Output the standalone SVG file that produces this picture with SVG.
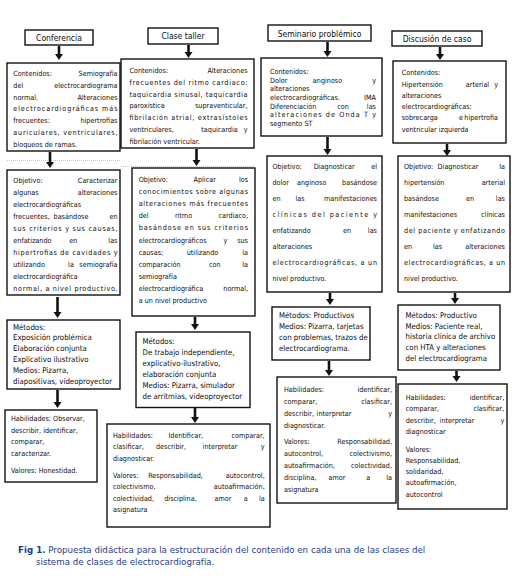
<svg xmlns="http://www.w3.org/2000/svg" width="512" height="587" viewBox="0 0 512 587">
<defs>
<style>
.bx{fill:#fff;stroke:#111;stroke-width:1.4}
text{font-family:"DejaVu Sans Condensed","Liberation Sans",sans-serif;fill:#0d0d0d}
.t{font-size:7.2px}
.tm{font-size:7.8px}
.h{font-size:8.5px;text-anchor:middle}
.e{text-anchor:end}
.m{text-anchor:middle}
.ar{stroke:#111;stroke-width:2.6;fill:none}
.dot{stroke:#b9c6d3;stroke-width:1;stroke-dasharray:1 1;fill:none}
.cap{font-family:"DejaVu Sans","Liberation Sans",sans-serif;font-size:8.7px;fill:#1f3c88}
</style>
</defs>
<rect width="512" height="587" fill="#fff"/>

<g id="connectors">
<line class="dot" x1="7" y1="160.5" x2="120" y2="160.5"/>
<line class="dot" x1="121" y1="166.5" x2="254" y2="166.5"/>
<line class="ar" x1="59" y1="46" x2="59" y2="55"/>
<line class="ar" x1="188.5" y1="45" x2="188.5" y2="53"/>
<line class="ar" x1="327.5" y1="42" x2="327.5" y2="52"/>
<line class="ar" x1="440" y1="47" x2="440" y2="55"/>
<line class="ar" x1="50" y1="152" x2="50" y2="163"/>
<line class="ar" x1="196.5" y1="149" x2="196.5" y2="161"/>
<line class="ar" x1="327.5" y1="137" x2="327.5" y2="150"/>
<line class="ar" x1="447" y1="144" x2="447" y2="151"/>
<line class="ar" x1="57.5" y1="297" x2="57.5" y2="313"/>
<line class="ar" x1="195" y1="317" x2="195" y2="325"/>
<line class="ar" x1="330" y1="293" x2="330" y2="300"/>
<line class="ar" x1="455" y1="293" x2="455" y2="299"/>
<line class="ar" x1="57.5" y1="390" x2="57.5" y2="403"/>
<line class="ar" x1="195" y1="408" x2="195" y2="418"/>
<line class="ar" x1="329" y1="361" x2="329" y2="371"/>
<line class="ar" x1="456.5" y1="371" x2="456.5" y2="377"/>
<g fill="#111">
<path d="M55,54 h8 l-4,6 z"/>
<path d="M184.5,52 h8 l-4,6 z"/>
<path d="M323.5,51 h8 l-4,6 z"/>
<path d="M436,54 h8 l-4,6 z"/>
<path d="M46,162 h8 l-4,6 z"/>
<path d="M192.5,160 h8 l-4,6 z"/>
<path d="M323.5,149 h8 l-4,6 z"/>
<path d="M443,150 h8 l-4,6 z"/>
<path d="M53.5,312 h8 l-4,6 z"/>
<path d="M191,324 h8 l-4,6 z"/>
<path d="M326,299 h8 l-4,6 z"/>
<path d="M451,298 h8 l-4,6 z"/>
<path d="M53.5,402 h8 l-4,6 z"/>
<path d="M191,417 h8 l-4,6 z"/>
<path d="M325,370 h8 l-4,6 z"/>
<path d="M452.5,376 h8 l-4,6 z"/>
</g>
</g>

<g id="h1"><rect class="bx" x="25" y="30" width="68" height="15"/><text class="h" x="59" y="40.5">Conferencia</text></g>
<g id="h2"><rect class="bx" x="148" y="28" width="70" height="16"/><text class="h" x="183" y="39">Clase taller</text></g>
<g id="h3"><rect class="bx" x="268" y="25" width="103" height="16"/><text class="h" x="319.5" y="36.5">Seminario problémico</text></g>
<g id="h4"><rect class="bx" x="392" y="31" width="90" height="15"/><text class="h" x="437" y="41.5">Discusión de caso</text></g>

<g id="c1" class="t">
<rect class="bx" x="7" y="63" width="113" height="88"/>
<text x="13.3" y="76">Contenidos:</text><text class="e" x="117.5" y="76">Semiografía</text>
<text x="13.3" y="87.8">del</text><text class="e" x="117.5" y="87.8">electrocardiograma</text>
<text x="13.3" y="99.6">normal.</text><text class="e" x="117.5" y="99.6">Alteraciones</text>
<text x="13.3" y="111.4" textLength="104.2" lengthAdjust="spacing">electrocardiográficas más</text>
<text x="13.3" y="123.2">frecuentes:</text><text class="e" x="117.5" y="123.2">hipertrofias</text>
<text x="13.3" y="135" textLength="104.2" lengthAdjust="spacing">auriculares, ventriculares,</text>
<text x="13.3" y="146.8">bloqueos de ramas.</text>
</g>

<g id="c2" class="t">
<rect class="bx" x="121" y="59" width="133" height="89"/>
<text x="129.5" y="73">Contenidos:</text><text class="e" x="247.5" y="73">Alteraciones</text>
<text x="129.5" y="84.8" textLength="118" lengthAdjust="spacing">frecuentes del ritmo cardiaco:</text>
<text x="129.5" y="96.6" textLength="118" lengthAdjust="spacing">taquicardia sinusal, taquicardia</text>
<text x="129.5" y="108.4">paroxística</text><text class="e" x="247.5" y="108.4">supraventicular,</text>
<text x="129.5" y="120.2" textLength="118" lengthAdjust="spacing">fibrilación atrial, extrasístoles</text>
<text x="129.5" y="132">ventriculares,</text><text class="m" x="219.5" y="132">taquicardia</text><text class="e" x="247.5" y="132">y</text>
<text x="129.5" y="143.8">fibrilación ventricular.</text>
</g>

<g id="c3" class="t">
<rect class="bx" x="261" y="58" width="121" height="78"/>
<text x="270" y="74.2">Contenidos:</text>
<text x="270" y="82.8">Dolor</text><text class="m" x="327.5" y="82.8">anginoso</text><text class="e" x="376" y="82.8">y</text>
<text x="270" y="91.4">alteraciones</text>
<text x="270" y="100">electrocardiográficas.</text><text class="e" x="376" y="100">IMA</text>
<text x="270" y="108.6">Diferenciación</text><text class="m" x="343" y="108.6">con</text><text class="e" x="376" y="108.6">las</text>
<text x="270" y="117.2" textLength="106" lengthAdjust="spacing">alteraciones de Onda T y</text>
<text x="270" y="125.8">segmento ST</text>
</g>

<g id="c4" class="t">
<rect class="bx" x="393" y="61" width="113" height="82"/>
<text x="401.7" y="75.2">Contenidos:</text>
<text x="401.7" y="86.5">Hipertensión</text><text class="m" x="477.5" y="86.5">arterial</text><text class="e" x="498" y="86.5">y</text>
<text x="401.7" y="97.8">alteraciones</text>
<text x="401.7" y="109.1">electrocardiográficas:</text>
<text x="401.7" y="120.4">sobrecarga</text><text class="m" x="461" y="120.4">e</text><text class="e" x="498" y="120.4">hipertrofia</text>
<text x="401.7" y="131.7">ventricular izquierda</text>
</g>

<g id="o1" class="t">
<rect class="bx" x="7" y="170" width="113" height="125"/>
<text x="13.3" y="182.5">Objetivo:</text><text class="e" x="117.5" y="182.5">Caracterizar</text>
<text x="13.3" y="194.6">algunas</text><text class="e" x="117.5" y="194.6">alteraciones</text>
<text x="13.3" y="206.7">electrocardiográficas</text>
<text x="13.3" y="218.8">frecuentes,</text><text class="m" x="71" y="218.8">basándose</text><text class="e" x="117.5" y="218.8">en</text>
<text x="13.3" y="230.9" textLength="104.2" lengthAdjust="spacing">sus criterios y sus causas,</text>
<text x="13.3" y="243">enfatizando</text><text class="m" x="73.3" y="243">en</text><text class="e" x="117.5" y="243">las</text>
<text x="13.3" y="255.1" textLength="104.2" lengthAdjust="spacing">hipertrofias de cavidades y</text>
<text x="13.3" y="267.2">utilizando</text><text class="m" x="71" y="267.2">la</text><text class="e" x="117.5" y="267.2">semiografía</text>
<text x="13.3" y="279.3">electrocardiográfica</text>
<text x="13.3" y="291.4" textLength="104.2" lengthAdjust="spacing">normal, a nivel productivo.</text>
</g>

<g id="o2" class="t">
<rect class="bx" x="132" y="168" width="123" height="148"/>
<text x="138.7" y="182">Objetivo:</text><text class="m" x="204.7" y="182">Aplicar</text><text class="e" x="248" y="182">los</text>
<text x="138.7" y="194.1" textLength="109.3" lengthAdjust="spacing">conocimientos sobre algunas</text>
<text x="138.7" y="206.2" textLength="109.3" lengthAdjust="spacing">alteraciones más frecuentes</text>
<text x="138.7" y="218.3">del</text><text class="m" x="183.5" y="218.3">ritmo</text><text class="e" x="248" y="218.3">cardiaco,</text>
<text x="138.7" y="230.4" textLength="109.3" lengthAdjust="spacing">basándose en sus criterios</text>
<text x="138.7" y="242.5">electrocardiográficos</text><text class="m" x="225.3" y="242.5">y</text><text class="e" x="248" y="242.5">sus</text>
<text x="138.7" y="254.6">causas;</text><text class="m" x="202.5" y="254.6">utilizando</text><text class="e" x="248" y="254.6">la</text>
<text x="138.7" y="266.7">comparación</text><text class="m" x="214.7" y="266.7">con</text><text class="e" x="248" y="266.7">la</text>
<text x="138.7" y="278.8">semiografía</text>
<text x="138.7" y="290.9">electrocardiográfica</text><text class="e" x="248" y="290.9">normal,</text>
<text x="138.7" y="303">a un nivel productivo</text>
</g>

<g id="o3" class="t">
<rect class="bx" x="267" y="156" width="115" height="136"/>
<text x="272.5" y="169.2">Objetivo:</text><text class="m" x="334.2" y="169.2">Diagnosticar</text><text class="e" x="377" y="169.2">el</text>
<text x="272.5" y="185.2">dolor</text><text class="m" x="311.7" y="185.2">anginoso</text><text class="e" x="377" y="185.2">basándose</text>
<text x="272.5" y="201.2">en</text><text class="m" x="300" y="201.2">las</text><text class="e" x="377" y="201.2">manifestaciones</text>
<text x="272.5" y="217.2" textLength="104.5" lengthAdjust="spacing">clínicas del paciente y</text>
<text x="272.5" y="233.2">enfatizando</text><text class="m" x="347" y="233.2">en</text><text class="e" x="377" y="233.2">las</text>
<text x="272.5" y="249.2">alteraciones</text>
<text x="272.5" y="265.2" textLength="104.5" lengthAdjust="spacing">electrocardiográficas, a un</text>
<text x="272.5" y="281.2">nivel productivo.</text>
</g>

<g id="o4" class="t">
<rect class="bx" x="398" y="156" width="112" height="136"/>
<text x="404" y="169.2">Objetivo:</text><text class="m" x="458" y="169.2">Diagnosticar</text><text class="e" x="505" y="169.2">la</text>
<text x="404" y="185.2">hipertensión</text><text class="e" x="505" y="185.2">arterial</text>
<text x="404" y="201.2">basándose</text><text class="m" x="470" y="201.2">en</text><text class="e" x="505" y="201.2">las</text>
<text x="404" y="217.2">manifestaciones</text><text class="e" x="505" y="217.2">clínicas</text>
<text x="404" y="233.2" textLength="101" lengthAdjust="spacing">del paciente y enfatizando</text>
<text x="404" y="249.2">en</text><text class="m" x="437.5" y="249.2">las</text><text class="e" x="505" y="249.2">alteraciones</text>
<text x="404" y="265.2" textLength="101" lengthAdjust="spacing">electrocardiográficas, a un</text>
<text x="404" y="281.2">nivel productivo.</text>
</g>

<g id="m1" class="tm">
<rect class="bx" x="7" y="320" width="113" height="69"/>
<text x="13" y="329.5">Métodos:</text>
<text x="13" y="340.3">Exposición problémica</text>
<text x="13" y="351.1">Elaboración conjunta</text>
<text x="13" y="361.9">Explicativo ilustrativo</text>
<text x="13" y="372.7">Medios: Pizarra,</text>
<text x="13" y="383.5">diapositivas, videoproyector</text>
</g>

<g id="m2" class="tm">
<rect class="bx" x="136" y="332" width="114" height="75.5"/>
<text x="142.5" y="343.5">Métodos:</text>
<text x="142.5" y="354.5">De trabajo independiente,</text>
<text x="142.5" y="365.5">explicativo-ilustrativo,</text>
<text x="142.5" y="376.5">elaboración conjunta</text>
<text x="142.5" y="387.5">Medios: Pizarra, simulador</text>
<text x="142.5" y="398.5">de arritmias, videoproyector</text>
</g>

<g id="m3" class="tm">
<rect class="bx" x="272" y="307" width="98" height="53"/>
<text x="279" y="318">Métodos: Productivos</text>
<text x="279" y="329">Medios: Pizarra, tarjetas</text>
<text x="279" y="340">con problemas, trazos de</text>
<text x="279" y="351">electrocardiograma.</text>
</g>

<g id="m4" class="tm">
<rect class="bx" x="398" y="305" width="102" height="65"/>
<text x="405.5" y="317.5">Métodos: Productivo</text>
<text x="405.5" y="328.5">Medios: Paciente real,</text>
<text x="405.5" y="339.2">historia clínica de archivo</text>
<text x="405.5" y="349.8">con HTA  y alteraciones</text>
<text x="405.5" y="360.8">del electrocardiograma</text>
</g>

<g id="v1" class="t">
<rect class="bx" x="5" y="410" width="92" height="72"/>
<text x="11" y="420.5">Habilidades: Observar,</text>
<text x="11" y="432.5">describir, identificar,</text>
<text x="11" y="444.2">comparar,</text>
<text x="11" y="455.8">caracterizar.</text>
<text x="11" y="472.5">Valores: Honestidad.</text>
</g>

<g id="v2" class="t">
<rect class="bx" x="107" y="424" width="163" height="103"/>
<text x="113" y="437.5">Habilidades:</text><text class="m" x="185.8" y="437.5">Identificar,</text><text class="e" x="264.7" y="437.5">comparar,</text>
<text x="113" y="449">clasificar,</text><text class="m" x="171" y="449">describir,</text><text class="m" x="220" y="449">interpretar</text><text class="e" x="264.7" y="449">y</text>
<text x="113" y="460.5">diagnosticar.</text>
<text x="113" y="477.5">Valores:</text><text class="m" x="175.5" y="477.5">Responsabilidad,</text><text class="e" x="264.7" y="477.5">autocontrol,</text>
<text x="113" y="489">colectivismo,</text><text class="e" x="264.7" y="489">autoafirmación,</text>
<text x="113" y="500.5">colectividad,</text><text class="m" x="180.5" y="500.5">disciplina,</text><text class="m" x="223" y="500.5">amor</text><text class="m" x="245.7" y="500.5">a</text><text class="e" x="264.7" y="500.5">la</text>
<text x="113" y="512">asignatura</text>
</g>

<g id="v3" class="t">
<rect class="bx" x="277" y="377" width="119" height="126"/>
<text x="284" y="392">Habilidades:</text><text class="e" x="392" y="392">identificar,</text>
<text x="284" y="404">comparar,</text><text class="e" x="392" y="404">clasificar,</text>
<text x="284" y="416">describir,</text><text class="m" x="334" y="416">interpretar</text><text class="e" x="392" y="416">y</text>
<text x="284" y="428">diagnosticar.</text>
<text x="284" y="443.5">Valores:</text><text class="e" x="392" y="443.5">Responsabilidad,</text>
<text x="284" y="455.5">autocontrol,</text><text class="e" x="392" y="455.5">colectivismo,</text>
<text x="284" y="467.5">autoafirmación,</text><text class="e" x="392" y="467.5">colectividad,</text>
<text x="284" y="479.5">disciplina,</text><text class="m" x="337" y="479.5">amor</text><text class="m" x="368.3" y="479.5">a</text><text class="e" x="392" y="479.5">la</text>
<text x="284" y="491.5">asignatura</text>
</g>

<g id="v4" class="t">
<rect class="bx" x="398" y="384" width="109" height="125"/>
<text x="405.7" y="399.8">Habilidades:</text><text class="e" x="504.3" y="399.8">identificar,</text>
<text x="405.7" y="410.8">comparar,</text><text class="e" x="504.3" y="410.8">clasificar,</text>
<text x="405.7" y="422.5">describir,</text><text class="m" x="457" y="422.5">interpretar</text><text class="e" x="504.3" y="422.5">y</text>
<text x="405.7" y="434.2">diagnosticar</text>
<text x="405.7" y="451.8">Valores:</text>
<text x="405.7" y="463.2">Responsabilidad,</text>
<text x="405.7" y="474.2">solidaridad,</text>
<text x="405.7" y="485.2">autoafirmación,</text>
<text x="405.7" y="496.5">autocontrol</text>
</g>

<g id="caption">
<text class="cap" x="18" y="553"><tspan font-weight="bold">Fig 1.</tspan> Propuesta didáctica para la estructuración del contenido en cada una de las clases del</text>
<text class="cap" x="36" y="565">sistema de clases de electrocardiografía.</text>
</g>
</svg>
